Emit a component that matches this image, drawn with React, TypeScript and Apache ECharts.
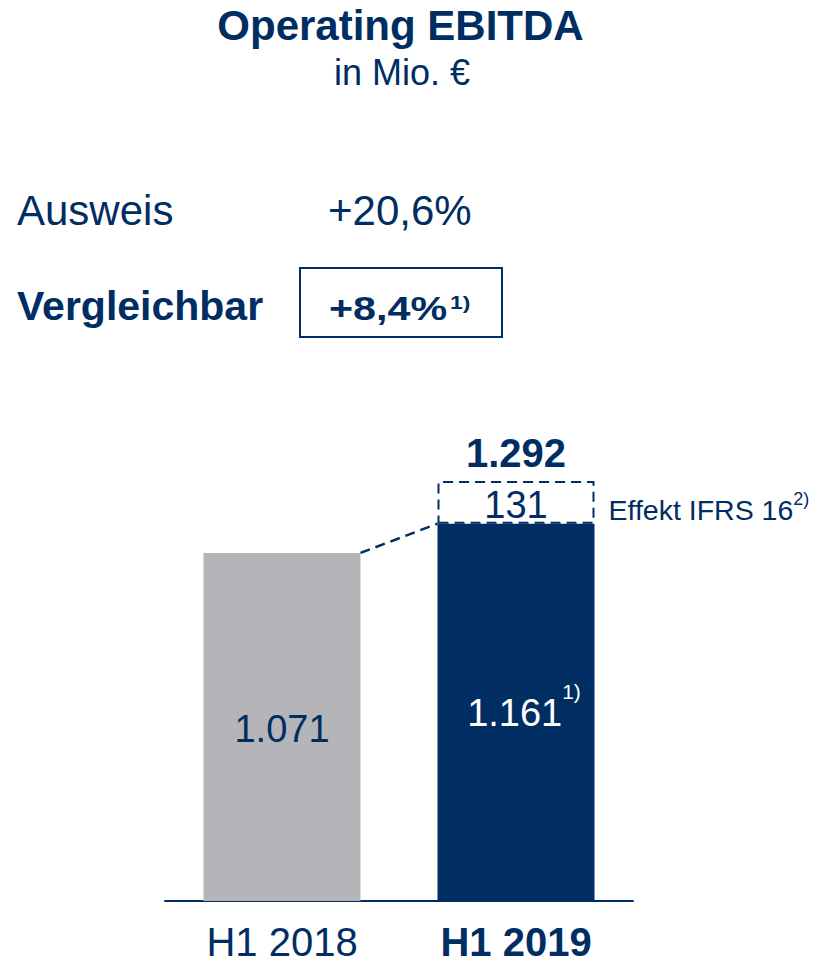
import React, { useEffect, useRef } from "react";
import * as echarts from "echarts";

// ---- data ----
const categories = ["H1 2018", "H1 2019"];
const comparableValues = [1071, 1161];
const ifrs16Effect: (number | null)[] = [null, 131];
const comparableFootnote = ["", "1)"];
const effectLabel = "Effekt IFRS 16";
const effectFootnote = "2)";
const titleText = "Operating EBITDA";
const subtitleText = "in Mio. €";
const reportedLabel = "Ausweis";
const reportedGrowth = "+20,6%";
const comparableLabel = "Vergleichbar";
const comparableGrowth = "+8,4%";
const comparableGrowthFootnote = "1)";

const NAVY = "#002D62";
const GREY = "#B5B4B9";
const FONT = "'Liberation Sans', Arial, Helvetica, sans-serif";
const BAR_W = 157;

function fmt(v: number): string {
  const s = Math.round(v).toString();
  return s.replace(/\B(?=(\d{3})+(?!\d))/g, ".");
}

const totals = comparableValues.map((v, i) =>
  ifrs16Effect[i] == null ? null : v + (ifrs16Effect[i] as number)
);

export default function App() {
  const ref = useRef<HTMLDivElement>(null);
  useEffect(() => {
    if (!ref.current) return;
    const chart = echarts.init(ref.current, undefined, { renderer: "svg" });

    const text = (
      t: string,
      x: number,
      y: number,
      fontSize: number,
      bold: boolean,
      align: string = "left",
      scaleX: number = 1
    ) => ({
      type: "text",
      x,
      y,
      scaleX,
      style: {
        text: t,
        x: 0,
        y: 0,
        fill: NAVY,
        font: `${bold ? "bold " : ""}${fontSize}px ${FONT}`,
        textAlign: align,
        textVerticalAlign: "middle",
      },
    });

    const option: any = {
      animation: false,
      backgroundColor: "#ffffff",
      textStyle: { fontFamily: FONT },
      grid: { left: 165, width: 468, top: 446, bottom: 65 },
      xAxis: {
        type: "category",
        data: categories,
        axisLine: { lineStyle: { color: NAVY, width: 2 } },
        axisTick: { show: false },
        axisLabel: {
          margin: 21,
          formatter: (v: string, i: number) =>
            i === categories.length - 1 ? `{b|${v}}` : `{n|${v}}`,
          rich: {
            n: { fontSize: 40, color: NAVY, fontFamily: FONT },
            b: { fontSize: 40, color: NAVY, fontWeight: "bold", fontFamily: FONT },
          },
        },
      },
      yAxis: { type: "value", min: 0, max: 1400, show: false },
      series: [
        {
          name: "Vergleichbar",
          type: "bar",
          stack: "ebitda",
          barWidth: BAR_W,
          data: comparableValues.map((v, i) => ({
            value: v,
            itemStyle: { color: i === 0 ? GREY : NAVY },
            label: { offset: comparableFootnote[i] ? [8, 1] : [0, 2] },
          })),
          label: {
            show: true,
            position: "inside",
            formatter: (p: any) =>
              comparableFootnote[p.dataIndex]
                ? `{w|${fmt(p.value)}}{ws|${comparableFootnote[p.dataIndex]}}`
                : `{g|${fmt(p.value)}}`,
            rich: {
              g: { fontSize: 38, color: NAVY, fontFamily: FONT },
              w: { fontSize: 38, color: "#ffffff", fontFamily: FONT, lineHeight: 64, verticalAlign: "middle" },
              ws: { fontSize: 21, color: "#ffffff", fontFamily: FONT, lineHeight: 22, verticalAlign: "top" },
            },
          },
        },
        {
          name: effectLabel,
          type: "bar",
          stack: "ebitda",
          barWidth: BAR_W,
          data: ifrs16Effect.map((v) => (v == null ? "-" : v)),
          itemStyle: {
            color: "#ffffff",
            borderColor: NAVY,
            borderWidth: 2,
            borderType: [10, 6],
          },
          label: {
            show: true,
            position: "inside",
            fontSize: 38,
            color: NAVY,
            fontFamily: FONT,
            offset: [0, 3],
            formatter: (p: any) => fmt(p.value),
          },
        },
        {
          name: "Summe",
          type: "scatter",
          symbolSize: 1,
          itemStyle: { color: "transparent", opacity: 1 },
          data: totals
            .map((t, i) => (t == null ? null : [i, t]))
            .filter((d) => d != null),
          label: {
            show: true,
            position: "top",
            distance: 8,
            fontSize: 40,
            fontWeight: "bold",
            color: NAVY,
            opacity: 1,
            fontFamily: FONT,
            formatter: (p: any) => fmt(p.value[1]),
          },
        },
        {
          name: "Effekt-Beschriftung",
          type: "scatter",
          symbolSize: 1,
          itemStyle: { color: "transparent", opacity: 1 },
          data: ifrs16Effect
            .map((e, i) => (e == null ? null : [i, comparableValues[i] + e / 2]))
            .filter((d) => d != null),
          label: {
            show: true,
            position: "right",
            distance: 92,
            offset: [0, 8],
            opacity: 1,
            formatter: () => `{m|${effectLabel}}{s|${effectFootnote}}`,
            rich: {
              m: { fontSize: 28.5, color: NAVY, fontFamily: FONT, lineHeight: 40, verticalAlign: "middle" },
              s: { fontSize: 18, color: NAVY, fontFamily: FONT, lineHeight: 18, verticalAlign: "top" },
            },
          },
        },
        {
          name: "Verbindung",
          type: "custom",
          data: [[0, comparableValues[0], 1, comparableValues[1]]],
          renderItem: (params: any, api: any) => {
            const p1 = api.coord([api.value(0), api.value(1)]);
            const p2 = api.coord([api.value(2), api.value(3)]);
            const half = BAR_W / 2;
            return {
              type: "line",
              shape: { x1: p1[0] + half, y1: p1[1], x2: p2[0] - half, y2: p2[1] },
              style: { stroke: NAVY, lineWidth: 2.5, lineDash: [10, 6] },
            };
          },
          z: 5,
        },
      ],
      graphic: [
        text(titleText, 400.5, 25, 42, true, "center"),
        text(subtitleText, 402, 72, 36, false, "center"),
        text(reportedLabel, 17, 210, 42, false),
        text(reportedGrowth, 328, 210, 42, false),
        text(comparableLabel, 17, 306, 41, true),
        {
          type: "rect",
          shape: { x: 300, y: 268, width: 202, height: 69 },
          style: { fill: "none", stroke: NAVY, lineWidth: 2 },
        },
        text(comparableGrowth, 329, 309, 33, true, "left", 1.25),
        text(comparableGrowthFootnote, 450, 302, 19, true, "left", 1.2),
      ],
    };
    chart.setOption(option);
    return () => chart.dispose();
  }, []);
  return (
    <div
      ref={ref}
      style={{ position: "absolute", left: 0, top: 0, width: 819, height: 966, background: "#fff" }}
    />
  );
}
